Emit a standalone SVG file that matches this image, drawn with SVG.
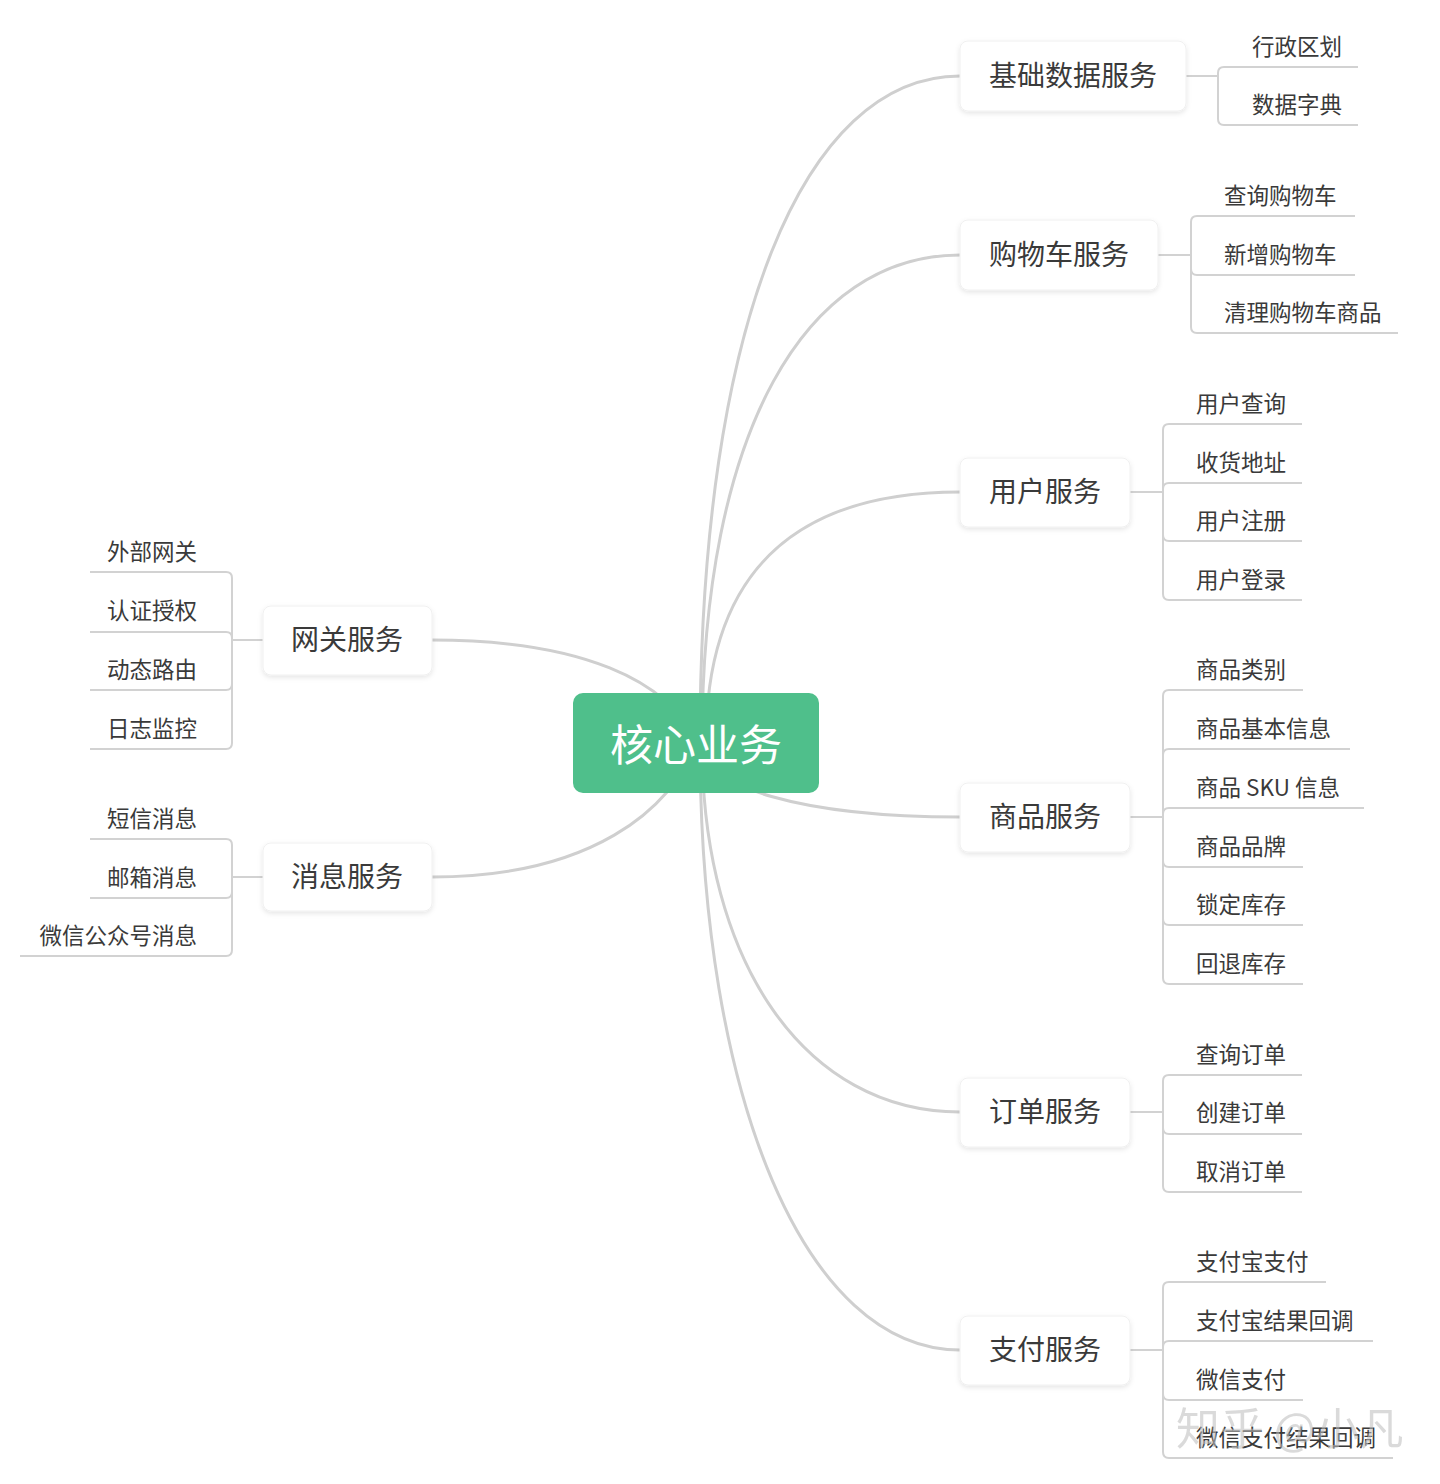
<svg xmlns="http://www.w3.org/2000/svg" width="1440" height="1484" viewBox="0 0 1440 1484">
<defs>
<filter id="sh" x="-10%" y="-20%" width="120%" height="150%">
<feDropShadow dx="0" dy="2" stdDeviation="2.5" flood-color="#000" flood-opacity="0.10"/>
</filter>
<style>
.main{fill:none;stroke:#cfcfcf;stroke-width:3}
.leaf{fill:none;stroke:#d2d2d2;stroke-width:2}
.box{fill:#fff;stroke:#f0f0f0;stroke-width:1;filter:url(#sh)}
.bt{font-family:"Noto Sans CJK SC","Noto Sans",sans-serif;font-size:28px;fill:#3a3a3a;text-anchor:middle}
.lt{font-family:"Noto Sans CJK SC","Noto Sans",sans-serif;font-size:22.5px;fill:#3a3a3a}
.ll{text-anchor:end}
.ct{font-family:"Noto Sans CJK SC","Noto Sans",sans-serif;font-size:43px;fill:#fff;text-anchor:middle}
.wm{font-family:"Noto Sans CJK SC","Noto Sans",sans-serif;font-size:44px;fill:#bdbdbd;opacity:0.55}
</style>
</defs>
<rect width="1440" height="1484" fill="#fff"/>

<g id="connectors">
<!-- main curves -->
<path class="main" d="M700 743 C700 323 804 76 960 76"/>
<path class="main" d="M702 743 C702 430 806 255 960 255"/>
<path class="main" d="M706 743 C706 560 808 492 960 492"/>
<path class="main" d="M700 743 C700 787 804 817 960 817"/>
<path class="main" d="M702 743 C702 964 806 1112 960 1112"/>
<path class="main" d="M700 743 C700 1100 806 1350 960 1350"/>
<path class="main" d="M432 640 C580 640 670 680 696 743"/>
<path class="main" d="M432 877 C590 877 672 810 696 743"/>
<!-- 基础数据服务 -->
<path class="leaf" d="M1186 76 H1218"/>
<path class="leaf" d="M1218 76 V73 Q1218 67 1224 67 H1358"/>
<path class="leaf" d="M1218 76 V119 Q1218 125 1224 125 H1358"/>
<!-- 购物车服务 -->
<path class="leaf" d="M1158 255 H1191"/>
<path class="leaf" d="M1191 255 V222 Q1191 216 1197 216 H1355"/>
<path class="leaf" d="M1191 255 V269 Q1191 275 1197 275 H1355"/>
<path class="leaf" d="M1191 255 V327 Q1191 333 1197 333 H1398"/>
<!-- 用户服务 -->
<path class="leaf" d="M1130 492 H1163"/>
<path class="leaf" d="M1163 492 V430 Q1163 424 1169 424 H1302"/>
<path class="leaf" d="M1163 492 V489 Q1163 483 1169 483 H1302"/>
<path class="leaf" d="M1163 492 V535 Q1163 541 1169 541 H1302"/>
<path class="leaf" d="M1163 492 V594 Q1163 600 1169 600 H1302"/>
<!-- 商品服务 -->
<path class="leaf" d="M1130 817 H1163"/>
<path class="leaf" d="M1163 817 V696 Q1163 690 1169 690 H1303"/>
<path class="leaf" d="M1163 817 V755 Q1163 749 1169 749 H1350"/>
<path class="leaf" d="M1163 817 V814 Q1163 808 1169 808 H1364"/>
<path class="leaf" d="M1163 817 V861 Q1163 867 1169 867 H1303"/>
<path class="leaf" d="M1163 817 V919 Q1163 925 1169 925 H1303"/>
<path class="leaf" d="M1163 817 V978 Q1163 984 1169 984 H1303"/>
<!-- 订单服务 -->
<path class="leaf" d="M1130 1112 H1163"/>
<path class="leaf" d="M1163 1112 V1081 Q1163 1075 1169 1075 H1302"/>
<path class="leaf" d="M1163 1112 V1128 Q1163 1134 1169 1134 H1302"/>
<path class="leaf" d="M1163 1112 V1186 Q1163 1192 1169 1192 H1302"/>
<!-- 支付服务 -->
<path class="leaf" d="M1130 1350 H1163"/>
<path class="leaf" d="M1163 1350 V1288 Q1163 1282 1169 1282 H1326"/>
<path class="leaf" d="M1163 1350 V1347 Q1163 1341 1169 1341 H1373"/>
<path class="leaf" d="M1163 1350 V1394 Q1163 1400 1169 1400 H1303"/>
<path class="leaf" d="M1163 1350 V1452 Q1163 1458 1169 1458 H1393"/>
<!-- 网关服务 -->
<path class="leaf" d="M263 640 H232"/>
<path class="leaf" d="M232 640 V578 Q232 572 226 572 H90"/>
<path class="leaf" d="M232 640 V638 Q232 632 226 632 H90"/>
<path class="leaf" d="M232 640 V684 Q232 690 226 690 H90"/>
<path class="leaf" d="M232 640 V743 Q232 749 226 749 H90"/>
<!-- 消息服务 -->
<path class="leaf" d="M263 877 H232"/>
<path class="leaf" d="M232 877 V845 Q232 839 226 839 H90"/>
<path class="leaf" d="M232 877 V892 Q232 898 226 898 H90"/>
<path class="leaf" d="M232 877 V950 Q232 956 226 956 H20"/>
</g>

<g id="node-core">
<rect x="573" y="693" width="246" height="100" rx="10" fill="#4fbf8b"/>
<text class="ct" x="696" y="761">核心业务</text>
</g>

<g id="node-jichu">
<rect class="box" x="960" y="41" width="226" height="70" rx="8"/>
<text class="bt" x="1073" y="86">基础数据服务</text>
</g>
<g id="node-gouwuche">
<rect class="box" x="960" y="220" width="198" height="70" rx="8"/>
<text class="bt" x="1059" y="265">购物车服务</text>
</g>
<g id="node-yonghu">
<rect class="box" x="960" y="458" width="170" height="69" rx="8"/>
<text class="bt" x="1045" y="502">用户服务</text>
</g>
<g id="node-shangpin">
<rect class="box" x="960" y="783" width="170" height="69" rx="8"/>
<text class="bt" x="1045" y="827">商品服务</text>
</g>
<g id="node-dingdan">
<rect class="box" x="960" y="1078" width="170" height="69" rx="8"/>
<text class="bt" x="1045" y="1122">订单服务</text>
</g>
<g id="node-zhifu">
<rect class="box" x="960" y="1316" width="170" height="69" rx="8"/>
<text class="bt" x="1045" y="1360">支付服务</text>
</g>
<g id="node-wangguan">
<rect class="box" x="263" y="606" width="169" height="69" rx="8"/>
<text class="bt" x="347" y="650">网关服务</text>
</g>
<g id="node-xiaoxi">
<rect class="box" x="263" y="843" width="169" height="68" rx="8"/>
<text class="bt" x="347" y="887">消息服务</text>
</g>

<g id="leaves-right">
<text class="lt" x="1252" y="55">行政区划</text>
<text class="lt" x="1252" y="113">数据字典</text>
<text class="lt" x="1224" y="204">查询购物车</text>
<text class="lt" x="1224" y="263">新增购物车</text>
<text class="lt" x="1224" y="321">清理购物车商品</text>
<text class="lt" x="1196" y="412">用户查询</text>
<text class="lt" x="1196" y="471">收货地址</text>
<text class="lt" x="1196" y="529">用户注册</text>
<text class="lt" x="1196" y="588">用户登录</text>
<text class="lt" x="1196" y="678">商品类别</text>
<text class="lt" x="1196" y="737">商品基本信息</text>
<text class="lt" x="1196" y="796">商品 SKU 信息</text>
<text class="lt" x="1196" y="855">商品品牌</text>
<text class="lt" x="1196" y="913">锁定库存</text>
<text class="lt" x="1196" y="972">回退库存</text>
<text class="lt" x="1196" y="1063">查询订单</text>
<text class="lt" x="1196" y="1121">创建订单</text>
<text class="lt" x="1196" y="1180">取消订单</text>
<text class="lt" x="1196" y="1270">支付宝支付</text>
<text class="lt" x="1196" y="1329">支付宝结果回调</text>
<text class="lt" x="1196" y="1388">微信支付</text>
<text class="lt" x="1196" y="1446">微信支付结果回调</text>
</g>

<g id="leaves-left">
<text class="lt ll" x="197" y="560">外部网关</text>
<text class="lt ll" x="197" y="619">认证授权</text>
<text class="lt ll" x="197" y="678">动态路由</text>
<text class="lt ll" x="197" y="737">日志监控</text>
<text class="lt ll" x="197" y="827">短信消息</text>
<text class="lt ll" x="197" y="886">邮箱消息</text>
<text class="lt ll" x="197" y="944">微信公众号消息</text>
</g>

<text class="wm" x="1176" y="1445">知乎 @小凡</text>
</svg>
